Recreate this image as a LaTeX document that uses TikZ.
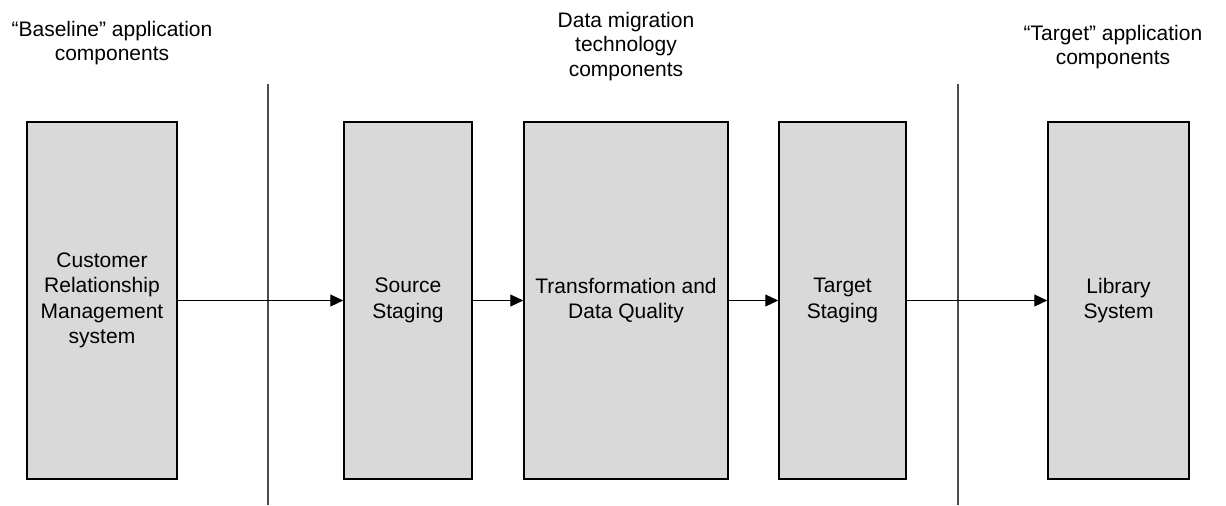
\documentclass[tikz,border=0pt]{standalone}
\usepackage{fontspec}
\setmainfont{Liberation Sans}
\usepackage{tikz}
\usetikzlibrary{arrows.meta}

\begin{document}
\begin{tikzpicture}[every node/.style={rectangle, draw, fill=black!15, line width=0.75pt, minimum height=178.5pt, align=center, inner sep=0pt, font=\fontsize{10.5}{12.75}\selectfont}, head/.style={draw=none, fill=none, minimum height=0pt, font=\fontsize{10.5}{12.4}\selectfont}, x=0.5pt, y=-0.5pt, >={Triangle[length=6.5pt, width=6pt]}]
\useasboundingbox (0, 0) rectangle (1226, 505);
\node[minimum width=75pt] (1) at (102, 300.5) {Customer\\Relationship\\Management\\system};
\node[minimum width=64pt] (2) at (408, 300.5) {Source\\Staging};
\node[minimum width=102pt] (3) at (626, 300.5) {Transformation and\\Data Quality};
\node[minimum width=63.5pt] (4) at (842.5, 300.5) {Target\\Staging};
\node[minimum width=70.5pt] (5) at (1118.5, 300.5) {Library\\System};
\node[head] (6) at (112, 43) {“Baseline” application\\components};
\node[head] (7) at (626, 46.5) {Data migration\\technology\\components};
\node[head] (8) at (1113, 47) {“Target” application\\components};
\draw[line width=1pt, black!70] (268, 84) -- (268, 505);
\draw[line width=1pt, black!70] (958, 84) -- (958, 505);
\draw[line width=0.5pt, ->] (1) -- (2);
\draw[line width=0.5pt, ->] (2) -- (3);
\draw[line width=0.5pt, ->] (3) -- (4);
\draw[line width=0.5pt, ->] (4) -- (5);
\end{tikzpicture}
\end{document}
